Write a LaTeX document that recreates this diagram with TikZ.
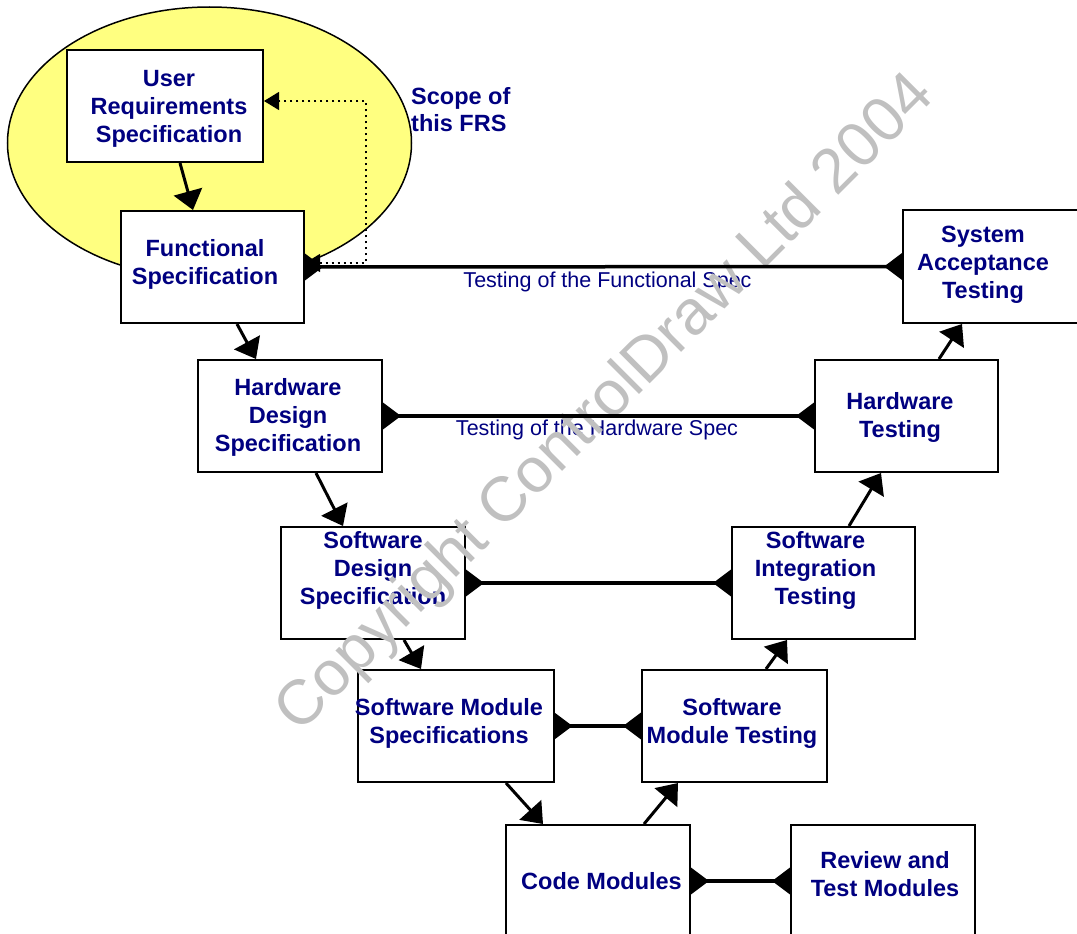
\documentclass[tikz,border=0pt]{standalone}
\usepackage{fontspec}
\setmainfont{Liberation Sans}
\usetikzlibrary{arrows.meta}
\definecolor{navy}{RGB}{0,0,128}
\definecolor{scopeyellow}{RGB}{255,255,128}
\definecolor{wmgrey}{RGB}{192,192,192}

\begin{document}
\begin{tikzpicture}[x=1pt,y=-1pt,
  box/.style={draw=black, line width=2pt, fill=white, inner sep=0pt, minimum height=112pt},
  boxtext/.style={text=navy, font=\bfseries\fontsize{23.5}{28}\selectfont, align=center, inner sep=0pt},
  note/.style={text=navy, font=\fontsize{21.5}{26}\selectfont, inner sep=0pt, anchor=base},
  flow/.style={line width=3pt, -{Triangle[width=29pt,length=19pt]}},
  link/.style={line width=3.5pt, {Triangle[reversed,width=26pt,length=18pt]}-{Triangle[reversed,width=26pt,length=18pt]}},
  trace/.style={line width=1.2pt, dash pattern=on 2.5pt off 3.5pt, {Triangle[width=18pt,length=15pt]}-{Triangle[width=18pt,length=15pt]}},
]
\useasboundingbox (0,0) rectangle (1077,934);
\clip (0,0) rectangle (1077,934);

% scope of the FRS
\draw[line width=1.5pt, fill=scopeyellow] (209.5,143) ellipse [x radius=202, y radius=136];
\node[anchor=north west, inner sep=0pt, text=navy, align=left,
      font=\bfseries\fontsize{23.5}{27}\selectfont] (scopelbl) at (411,87) {Scope of\\this FRS};

% boxes
\node[box, minimum width=196pt] (urs) at (165,106) {};
\node[box, minimum width=183pt] (fs)  at (212.5,267) {};
\node[box, minimum width=184pt] (hds) at (290,416) {};
\node[box, minimum width=184pt] (sds) at (373,583) {};
\node[box, minimum width=196pt] (sms) at (455.5,726) {};
\node[box, minimum width=184pt] (cm)  at (598,881) {};
\node[box, minimum width=184pt] (rtm) at (883,881) {};
\node[box, minimum width=185pt] (smt) at (734.5,726) {};
\node[box, minimum width=183pt] (sit) at (823.5,583) {};
\node[box, minimum width=183pt] (ht)  at (906.5,416) {};
\node[box, minimum width=187pt, minimum height=113pt] (sat) at (996.5,266.5) {};

% box captions
\node[boxtext] (urs-t) at (169,109)   {User\\Requirements\\Specification};
\node[boxtext] (fs-t)  at (205,264)   {Functional\\Specification};
\node[boxtext] (hds-t) at (288,417.5) {Hardware\\Design\\Specification};
\node[boxtext] (sds-t) at (373,570.5) {Software\\Design\\Specification};
\node[boxtext] (sms-t) at (449,723.5) {Software Module\\Specifications};
\node[boxtext] (cm-t)  at (601.5,881) {Code Modules};
\node[boxtext] (rtm-t) at (885,874)   {Review and\\Test Modules};
\node[boxtext] (smt-t) at (732,723.5) {Software\\Module Testing};
\node[boxtext] (sit-t) at (815.5,570.5) {Software\\Integration\\Testing};
\node[boxtext] (ht-t)  at (900,417)   {Hardware\\Testing};
\node[boxtext] (sat-t) at (983,265)   {System\\Acceptance\\Testing};

% connector captions
\node[note] (fslbl) at (607.5,287) {Testing of the Functional Spec};
\node[note] (hwlbl) at (597,435)   {Testing of the Hardware Spec};

% watermark
\node[text=wmgrey, rotate=45, inner sep=0pt, font=\fontsize{63}{70}\selectfont] (wm) at (606.5,404.5)
  {Copyright ControlDraw Ltd 2004};

% design path down the left side, build and test path up the right side
\draw[flow] ([xshift=114pt]urs.south west) -- ([xshift=73pt]fs.north west);
\draw[flow] ([xshift=117pt]fs.south west)  -- ([xshift=59pt]hds.north west);
\draw[flow] ([xshift=119pt]hds.south west) -- ([xshift=63pt]sds.north west);
\draw[flow] ([xshift=124pt]sds.south west) -- ([xshift=64.5pt]sms.north west);
\draw[flow] ([xshift=149.5pt]sms.south west) -- ([xshift=38pt]cm.north west);
\draw[flow] ([xshift=139pt]cm.north west)  -- ([xshift=37pt]smt.south west);
\draw[flow] ([xshift=125pt]smt.north west) -- ([xshift=56pt]sit.south west);
\draw[flow] ([xshift=118pt]sit.north west) -- ([xshift=67pt]ht.south west);
\draw[flow] ([xshift=125pt]ht.north west)  -- ([xshift=60pt]sat.south west);

% verification links
\draw[link] (fs.east)  -- (sat.west);
\draw[link] (hds.east) -- (ht.west);
\draw[link] (sds.east) -- (sit.west);
\draw[link] (sms.east) -- (smt.west);
\draw[link] (cm.east)  -- (rtm.west);

% traceability back to the user requirements
\draw[trace] ([yshift=4pt]fs.east) -- ++(61,0) |- ([yshift=5pt]urs.east);
\end{tikzpicture}
\end{document}
